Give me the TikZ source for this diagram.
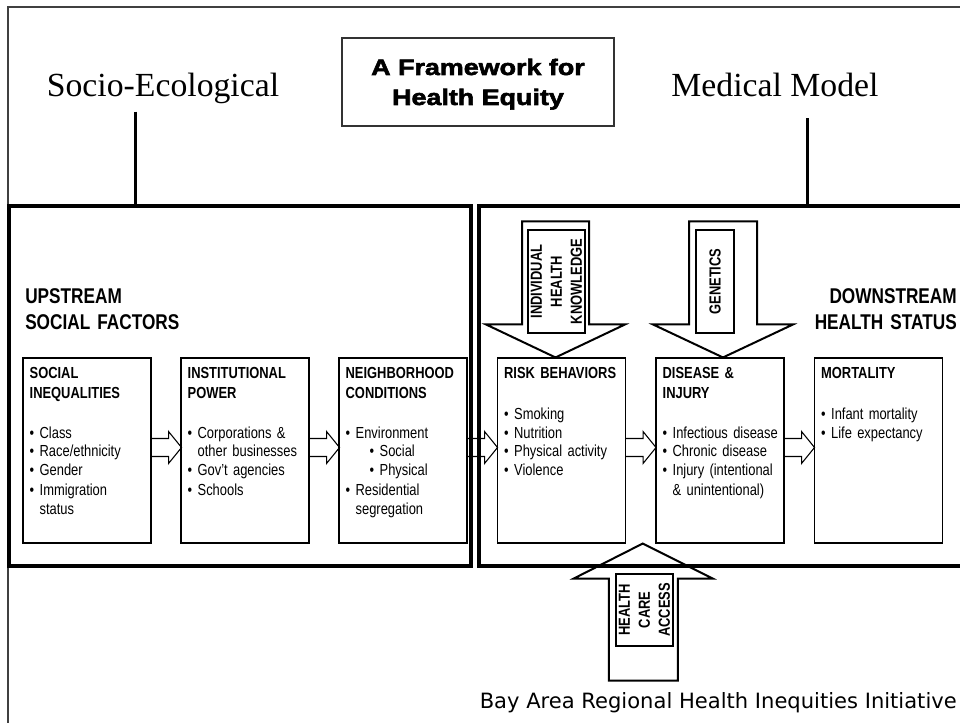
\documentclass[tikz,border=0pt]{standalone}
\usepackage{fontspec}
\setmainfont[FakeStretch=0.807]{Liberation Sans}
\newfontfamily\headserif{Liberation Serif}
\newfontfamily\blackfont[FakeStretch=1.2,FakeBold=2.6]{Liberation Sans Bold}
\newfontfamily\footfont{DejaVu Sans}
\usepackage{tikz}
\usetikzlibrary{calc,positioning}
\newcommand{\bitem}[1]{\makebox[7.5pt][l]{\textbullet}\mbox{#1}}
\newcommand{\bcont}[1]{\hspace*{7.5pt}\mbox{#1}}

\begin{document}
\begin{tikzpicture}
		[x=0.75pt, y=-0.75pt, inner sep=0pt,
		frame/.style		= {draw=black!75, line width=0.8pt},
		titlebox/.style		= {draw=black!80, line width=0.8pt, text width=200pt, minimum width=204pt, align=center,
								text height=27.75pt, text depth=38.25pt, font=\blackfont\fontsize{16.8}{22.5}\selectfont},
		model/.style		= {anchor=base, inner sep=3.33pt, font=\headserif\fontsize{25.3}{28}\selectfont},
		stem/.style			= {line width=2.25pt},
		bigbox/.style		= {draw, line width=3pt, minimum height=270pt},
		header/.style		= {text width=140pt, font=\bfseries\fontsize{16}{19.5}\selectfont},
		box/.style			= {draw, line width=0.8pt, text width=86pt, inner xsep=5pt, inner ysep=0pt, align=left,
								text height=15.75pt, text depth=123pt, font=\fontsize{12}{14.25}\selectfont},
		sidebox/.style		= {draw, line width=0.8pt, rotate=90, align=center, font=\bfseries\fontsize{12}{15}\selectfont},
		hollow/.style		= {line width=0.8pt, line join=miter},
		blockarrow/.style	= {line width=1.5pt, line join=miter}]
		
		\useasboundingbox (0,0) rectangle (960,723);
		\clip (0,0) rectangle (960,723);
		
		\draw [frame] (8,740) -- (8,7) -- (975,7);
		
		\node at (478,82)		[titlebox]	(frametitle)	{A Framework for\\Health Equity};
		\node at (163,97)		[model]		(socio)		{Socio-Ecological};
		\node at (775,97)		[model]		(medical)	{Medical Model};
		
		\node at (240,386)		[bigbox, minimum width=346.5pt]	(upstream)		{};
		\node at (727,386)		[bigbox, minimum width=372pt]	(downstream)	{};
		
		\node at (25,304)		[header, anchor=base west, align=left]	(uplabel)	{UPSTREAM\\SOCIAL FACTORS};
		\node at (957,304)		[header, anchor=base east, align=right]	(downlabel)	{DOWNSTREAM\\HEALTH STATUS};
		
		\node at (87,450.5)		[box]	(ineq)		{\textbf{SOCIAL}\\\textbf{INEQUALITIES}\\[15.75pt]
			\bitem{Class}\\\bitem{Race/ethnicity}\\\bitem{Gender}\\\bitem{Immigration}\\\bcont{status}};
		\node at (245,450.5)	[box]	(power)		{\textbf{INSTITUTIONAL}\\\textbf{POWER}\\[15.75pt]
			\bitem{Corporations \&}\\\bcont{other businesses}\\\bitem{Gov’t agencies}\\\bitem{Schools}};
		\node at (403,450.5)	[box]	(hood)		{\textbf{NEIGHBORHOOD}\\\textbf{CONDITIONS}\\[15.75pt]
			\bitem{Environment}\\\hspace*{18pt}\bitem{Social}\\\hspace*{18pt}\bitem{Physical}\\\bitem{Residential}\\\bcont{segregation}};
		\node at (561.5,450.5)	[box]	(risk)		{\textbf{RISK BEHAVIORS}\\[15.75pt]
			\bitem{Smoking}\\\bitem{Nutrition}\\\bitem{Physical activity}\\\bitem{Violence}};
		\node at (720,450.5)	[box]	(disease)	{\textbf{DISEASE \&}\\\textbf{INJURY}\\[15.75pt]
			\bitem{Infectious disease}\\\bitem{Chronic disease}\\\bitem{Injury (intentional}\\\bcont{\& unintentional)}};
		\node at (878.5,450.5)	[box]	(mortality)	{\textbf{MORTALITY}\\[15.75pt]
			\bitem{Infant mortality}\\\bitem{Life expectancy}};
		
		% socio-ecological and medical model stems
		\draw [stem] ([xshift=-21pt,yshift=-2pt]socio.south) -- ([xshift=-21pt]socio.south |- upstream.north);
		\draw [stem] ([xshift=24pt,yshift=-12pt]medical.south) -- ([xshift=24pt]medical.south |- downstream.north);
		
		% hollow arrows between the boxes
		\draw [hollow] (ineq.east) ++(0,-12) -- ++(17,0) -- ++(0,-7) -- ++(13,16) -- ++(-13,16) -- ++(0,-7) -- ++(-17,0);
		\draw [hollow] (power.east) ++(0,-12) -- ++(17,0) -- ++(0,-7) -- ++(13,16) -- ++(-13,16) -- ++(0,-7) -- ++(-17,0);
		\draw [hollow] (hood.east) ++(0,-12) -- ++(17,0) -- ++(0,-7) -- ++(13,16) -- ++(-13,16) -- ++(0,-7) -- ++(-17,0);
		\draw [hollow] (risk.east) ++(0,-12) -- ++(17,0) -- ++(0,-7) -- ++(13,16) -- ++(-13,16) -- ++(0,-7) -- ++(-17,0);
		\draw [hollow] (disease.east) ++(0,-12) -- ++(17,0) -- ++(0,-7) -- ++(13,16) -- ++(-13,16) -- ++(0,-7) -- ++(-17,0);
		
		% big block arrows
		\draw [blockarrow] ([xshift=-4.5pt]risk.north) -- ++(-69.5,-33) -- ++(36,0) -- ++(0,-103) -- ++(67,0) -- ++(0,103) -- ++(36,0) -- cycle;
		\draw [blockarrow] ([xshift=2.25pt]disease.north) -- ++(-70,-33) -- ++(36,0) -- ++(0,-103) -- ++(68,0) -- ++(0,103) -- ++(36,0) -- cycle;
		\draw [blockarrow] ($(risk.south east)!0.5!(disease.south west)+(2,0)$) -- ++(70,35) -- ++(-35,0) -- ++(0,102) -- ++(-69,0) -- ++(0,-102) -- ++(-35,0) -- cycle;
		
		\node at (556.5,281.5)	[sidebox, minimum width=77.25pt, minimum height=42.75pt]	(know)		{INDIVIDUAL\\HEALTH\\KNOWLEDGE};
		\node at (715,281.5)	[sidebox, minimum width=77.25pt, minimum height=28.5pt]		(genes)		{GENETICS};
		\node at (644.5,610)	[sidebox, minimum width=54pt, minimum height=42.75pt]		(access)	{HEALTH\\CARE\\ACCESS};
		
		\node at (957,703)		[anchor=east, font=\footfont\fontsize{15.8}{18}\selectfont]	(footer)	{Bay Area Regional Health Inequities Initiative};
		
		\end{tikzpicture}
\end{document}
